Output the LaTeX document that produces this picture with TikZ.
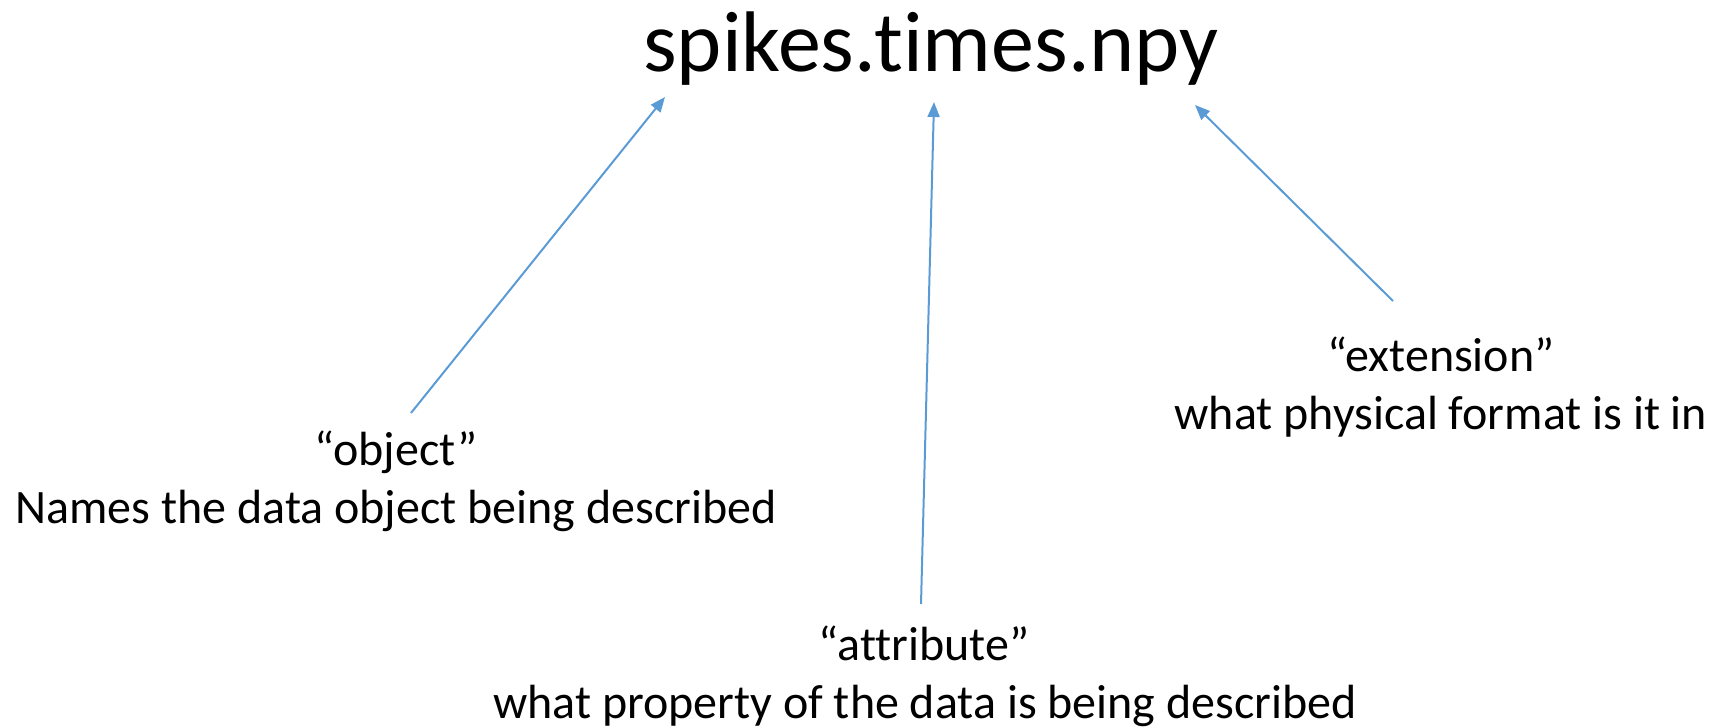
\documentclass[tikz,border=0pt]{standalone}
\usepackage{fontspec}
\setmainfont[Ligatures=NoCommon]{Carlito}
\usetikzlibrary{arrows.meta}
\definecolor{arrowblue}{RGB}{91,155,213}
\tikzset{
  lbl/.style={anchor=base, inner sep=0pt, font=\fontsize{48}{59}\selectfont},
  conn/.style={draw=arrowblue, line width=2pt, -{Triangle[length=15pt, width=12pt]}}
}
\begin{document}
\begin{tikzpicture}[x=1pt,y=-1pt]
\useasboundingbox (0,0) rectangle (1713,727);
\node[inner sep=0pt, font=\fontsize{86}{100}\selectfont] (title) at (931,49) {spikes.times.npy};
\node[lbl] (objq) at (396,465) {“object”};
\node[lbl] (objd) at (396,523) {Names the data object being described};
\node[lbl] (attrq) at (924,660) {“attribute”};
\node[lbl] (attrd) at (925,718) {what property of the data is being described};
\node[lbl] (extq) at (1441,371) {“extension”};
\node[lbl] (extd) at (1441,429) {what physical format is it in};
\coordinate (o1) at (411,413);
\coordinate (o2) at (665,97);
\coordinate (a1) at (921,604);
\coordinate (a2) at (934,102);
\coordinate (e1) at (1393,301);
\coordinate (e2) at (1195,105);
\draw[conn] (o1) -- (o2);
\draw[conn] (a1) -- (a2);
\draw[conn] (e1) -- (e2);
\end{tikzpicture}
\end{document}
